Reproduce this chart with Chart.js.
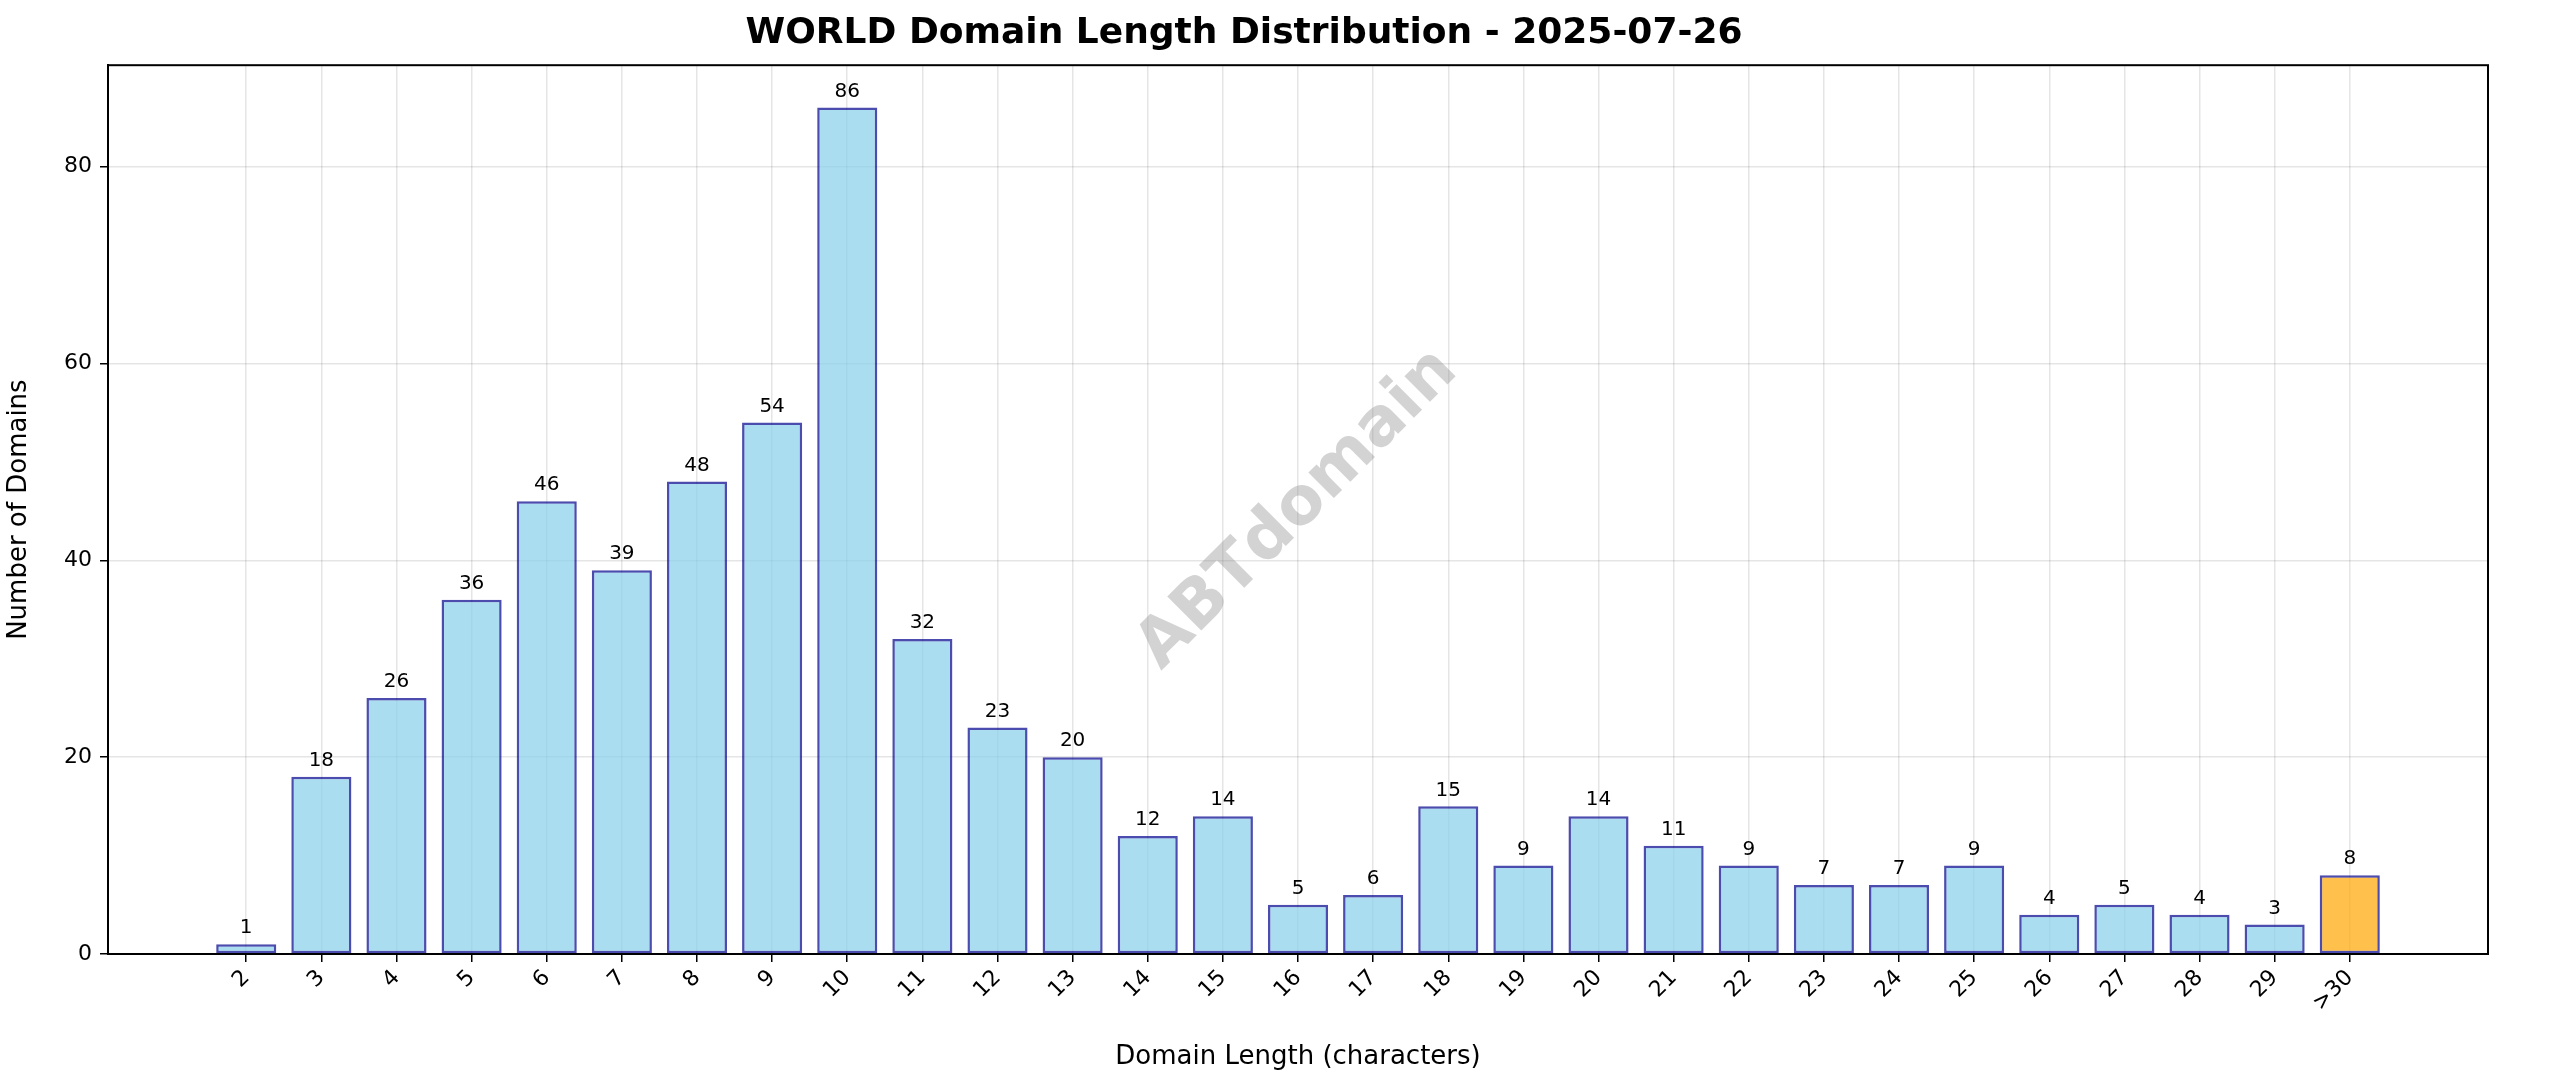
<!DOCTYPE html>
<html>
<head>
<meta charset="utf-8">
<script src="https://cdn.jsdelivr.net/npm/chart.js@4.4.1/dist/chart.umd.min.js"></script>
<style>
  html, body { margin: 0; padding: 0; background: #fff; }
  #wrap { width: 2560px; height: 1087px; }
</style>
</head>
<body>
<div id="wrap"><canvas id="chart" width="2560" height="1087"></canvas></div>
<script>
// domain lengths (x position) and counts
const lengths = [2, 3, 4, 5, 6, 7, 8, 9, 10, 11, 12, 13, 14, 15, 16, 17, 18, 19, 20, 21, 22, 23, 24, 25, 26, 27, 28, 29, 30];
const tickLabels = ['2', '3', '4', '5', '6', '7', '8', '9', '10', '11', '12', '13', '14', '15', '16', '17', '18', '19', '20', '21', '22', '23', '24', '25', '26', '27', '28', '29', '>30'];
const counts = [1, 18, 26, 36, 46, 39, 48, 54, 86, 32, 23, 20, 12, 14, 5, 6, 15, 9, 14, 11, 9, 7, 7, 9, 4, 5, 4, 3, 8];

const FONT = 'DejaVu Sans';
const blue = 'rgba(135,206,235,0.7)';
const orange = 'rgba(255,165,0,0.7)';
const edge = 'rgba(0,0,139,0.7)';

const extras = {
  id: 'extras',
  afterDatasetsDraw(chart) {
    const ctx = chart.ctx;
    const a = chart.chartArea;
    const meta = chart.getDatasetMeta(0);
    ctx.save();
    // value labels
    ctx.fillStyle = '#000';
    ctx.font = `20px "${FONT}"`;
    ctx.textAlign = 'center';
    ctx.textBaseline = 'bottom';
    meta.data.forEach((bar, i) => {
      ctx.fillText(String(counts[i]), bar.x, bar.y - 6);
    });
    // watermark
    ctx.translate((a.left + a.right) / 2, (a.top + a.bottom) / 2);
    ctx.rotate(-Math.PI / 4);
    ctx.font = `bold 66px "${FONT}"`;
    ctx.fillStyle = 'rgba(128,128,128,0.35)';
    ctx.textBaseline = 'middle';
    ctx.fillText('ABTdomain', 0, 0);
    ctx.restore();
    // frame
    ctx.save();
    ctx.strokeStyle = '#000';
    ctx.lineWidth = 2;
    ctx.strokeRect(a.left, a.top, a.right - a.left, a.bottom - a.top);
    ctx.restore();
  }
};

new Chart(document.getElementById('chart'), {
  type: 'bar',
  data: {
    datasets: [{
      data: lengths.map((x, i) => ({ x: x, y: counts[i] })),
      backgroundColor: lengths.map((x, i) => i === lengths.length - 1 ? orange : blue),
      borderColor: edge,
      borderWidth: 2.5,
      borderSkipped: false,
      barPercentage: 0.8,
      categoryPercentage: 1.0
    }]
  },
  options: {
    responsive: false,
    animation: false,
    layout: { padding: { left: 0, right: 72, top: 0, bottom: 10 } },
    plugins: {
      legend: { display: false },
      tooltip: { enabled: false },
      title: {
        display: true,
        text: 'WORLD Domain Length Distribution - 2025-07-26',
        font: { family: FONT, size: 36, weight: 'bold' },
        color: '#000',
        padding: { top: 12, bottom: 10 }
      }
    },
    scales: {
      x: {
        type: 'linear',
        min: 0.16,
        max: 31.84,
        offset: false,
        afterBuildTicks(s) { s.ticks = lengths.map(v => ({ value: v })); },
        afterFit(s) { s.height = 123; },
        ticks: {
          autoSkip: false,
          maxRotation: 45,
          minRotation: 45,
          color: '#000',
          font: { family: FONT, size: 22 },
          callback: (v) => tickLabels[lengths.indexOf(v)]
        },
        grid: { offset: false, color: 'rgba(0,0,0,0.1)', lineWidth: 1.5, tickColor: '#000', tickLength: 8 },
        border: { color: '#000', width: 2 },
        title: {
          display: true,
          text: 'Domain Length (characters)',
          color: '#000',
          font: { family: FONT, size: 26 },
          padding: { top: 0 }
        }
      },
      y: {
        min: 0,
        max: 90.3,
        afterBuildTicks(s) { s.ticks = [0, 20, 40, 60, 80].map(v => ({ value: v })); },
        afterFit(s) { s.width = 108; },
        ticks: { color: '#000', font: { family: FONT, size: 22 }, padding: 8 },
        grid: { color: 'rgba(0,0,0,0.1)', lineWidth: 1.5, tickColor: '#000', tickLength: 8 },
        border: { color: '#000', width: 2 },
        title: {
          display: true,
          text: 'Number of Domains',
          color: '#000',
          font: { family: FONT, size: 26 },
          padding: { bottom: 6 }
        }
      }
    }
  },
  plugins: [extras]
});
</script>
</body>
</html>
